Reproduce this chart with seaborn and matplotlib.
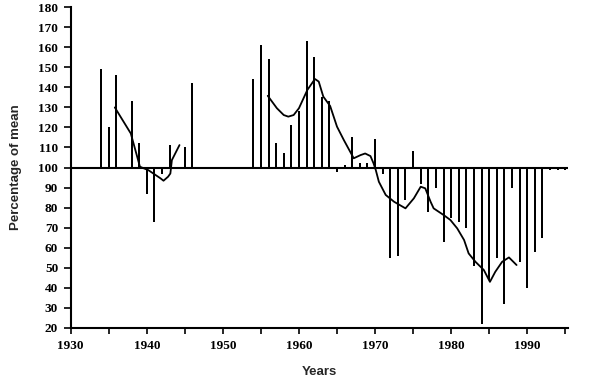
import numpy as np
import pandas as pd
import matplotlib
matplotlib.use("Agg")
import matplotlib.pyplot as plt
import seaborn as sns
from matplotlib.ticker import MultipleLocator

# ---- data ----
bar_years = [1930, 1934, 1935, 1936, 1938, 1939, 1940, 1941, 1942, 1943, 1945, 1946,
             1954, 1955, 1956, 1957, 1958, 1959, 1960, 1961, 1962, 1963, 1964, 1965,
             1966, 1967, 1968, 1969, 1970, 1971, 1972, 1973, 1974, 1975, 1976, 1977,
             1978, 1979, 1980, 1981, 1982, 1983, 1984, 1985, 1986, 1987, 1988, 1989,
             1990, 1991, 1992, 1993, 1994, 1995]
bar_values = [147, 149, 120, 146, 133, 112, 87, 73, 97, 111, 110, 142,
              144, 161, 154, 112, 107, 121, 128, 163, 155, 135, 133, 98,
              101, 115, 102, 102, 114, 97, 55, 56, 84, 108, 92, 78,
              90, 63, 75, 73, 70, 51, 22, 44, 55, 32, 90, 53,
              40, 58, 65, 99, 99, 99]

# smoothed curve, segment 1
curve1_years = [1935.8, 1937.9, 1939.1, 1939.6, 1940.2, 1941.8, 1942.2, 1942.8, 1943.1, 1943.3, 1944.3]
curve1_values = [130, 117, 100.4, 99.6, 98.7, 94.6, 93.4, 95.4, 97, 103.7, 111.2]

# smoothed curve, segment 2
curve2_years = [1955.9, 1957.1, 1958.0, 1958.6, 1959.3, 1960.0, 1961.1, 1962.1, 1962.6, 1963.2,
                1964.1, 1965.0, 1965.9, 1967.2, 1968.1, 1968.7, 1969.4, 1969.8, 1970.1, 1970.5,
                1971.4, 1972.5, 1974.0, 1975.1, 1976.0, 1976.6, 1977.3, 1977.7, 1979.0, 1979.9,
                1980.8, 1981.7, 1982.3, 1983.2, 1984.3, 1985.1, 1985.8, 1986.7, 1987.6, 1988.6]
curve2_values = [135.8, 129.6, 126.2, 125.4, 126.2, 129.6, 138.7, 144.2, 142.9, 135.4,
                 130.7, 120.4, 113.7, 104.6, 106.2, 107, 105.7, 102.1, 98.7, 92.9,
                 86.3, 82.9, 79.6, 84.6, 90.4, 89.6, 82.9, 79.6, 76.3, 73.8,
                 69.6, 63.8, 57.1, 52.9, 48.8, 42.9, 47.9, 52.9, 55.1, 51.3]

x_labels = ["1930", "1940", "1950", "1960", "1970", "1980", "1990"]
y_ticks = list(range(20, 181, 10))
baseline = 100

# ---- plotting ----
sns.set_theme(style="ticks")
plt.rcParams["font.family"] = ["Liberation Serif", "DejaVu Serif"]

fig = plt.figure(figsize=(5.99, 3.84), dpi=100)
ax = fig.add_axes([0.118, 0.1466, 0.8295, 0.8344])

bars = pd.DataFrame({"year": bar_years, "value": bar_values})
ax.vlines(bars["year"], baseline, bars["value"], color="black", linewidth=1.4,
          antialiased=False)

c1 = pd.DataFrame({"year": curve1_years, "value": curve1_values})
c2 = pd.DataFrame({"year": curve2_years, "value": curve2_values})
sns.lineplot(data=c1, x="year", y="value", ax=ax, color="black", linewidth=1.3, sort=False)
sns.lineplot(data=c2, x="year", y="value", ax=ax, color="black", linewidth=1.3, sort=False)

ax.axhline(baseline, color="black", linewidth=1.5, zorder=3)

ax.set_xlim(1930, 1995.3)
ax.set_ylim(20, 180)
ax.set_xticks([int(s) for s in x_labels])
ax.set_xticklabels(x_labels)
ax.xaxis.set_minor_locator(MultipleLocator(5))
ax.set_yticks(y_ticks)
ax.set_yticklabels([str(v) for v in y_ticks])

for s in ["top", "right"]:
    ax.spines[s].set_visible(False)
for s in ["left", "bottom"]:
    ax.spines[s].set_linewidth(1.5)
    ax.spines[s].set_color("black")

ax.tick_params(axis="both", which="both", direction="out", color="black",
               width=1.2, labelsize=9.5, labelcolor="black")
ax.tick_params(axis="y", length=5, pad=4)
ax.tick_params(axis="x", which="both", length=4, pad=5)
for lab in ax.get_xticklabels() + ax.get_yticklabels():
    lab.set_fontweight("bold")

ax.set_xlabel("Years", fontsize=9.5, fontweight="bold",
              family=["Liberation Sans", "DejaVu Sans"], labelpad=10)
ax.set_ylabel("Percentage of mean", fontsize=9.5, fontweight="bold",
              family=["Liberation Sans", "DejaVu Sans"], labelpad=12)
ax.grid(False)
ax.set_facecolor("white")
fig.patch.set_facecolor("white")

fig.savefig("out.png", dpi=100, facecolor="white")
